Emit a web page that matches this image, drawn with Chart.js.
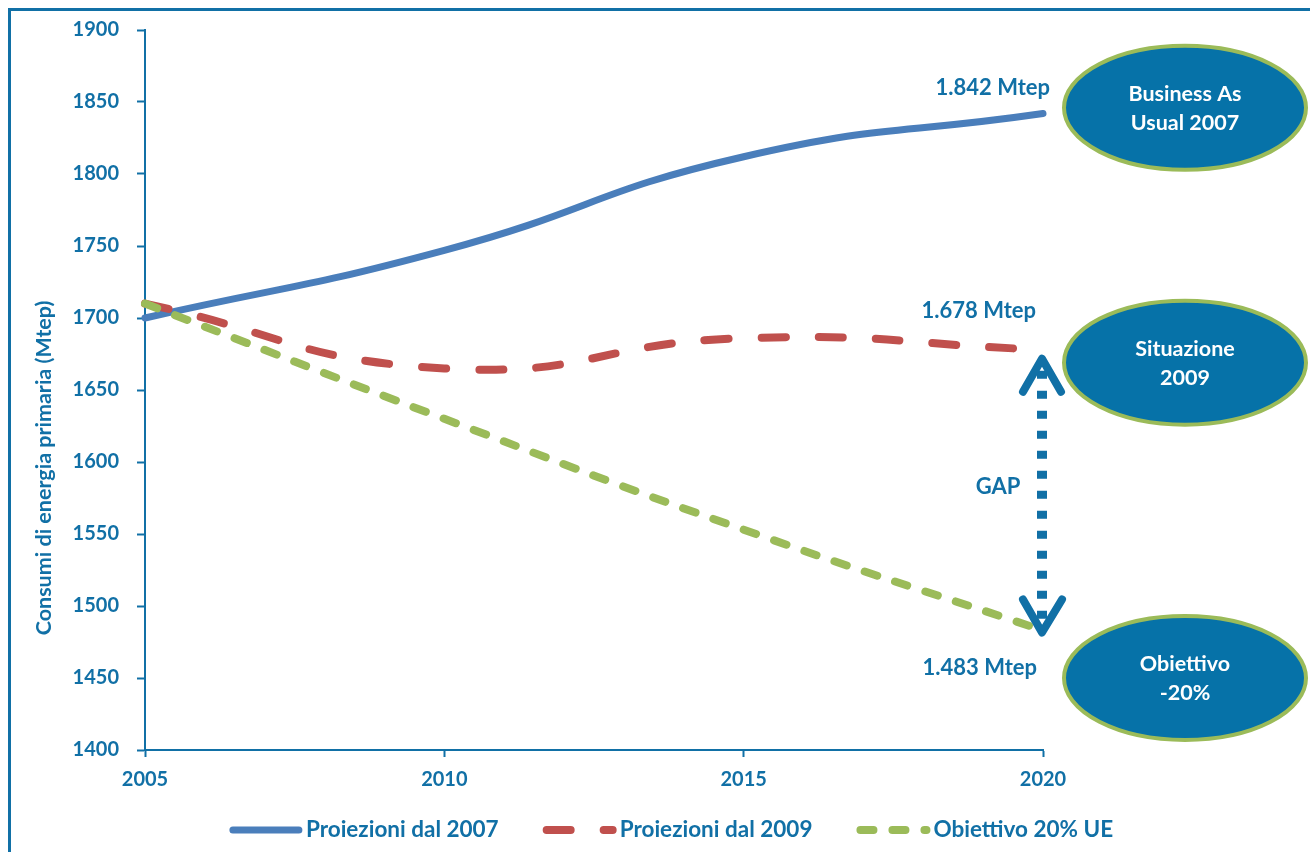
<!DOCTYPE html>
<html>
<head>
<meta charset="utf-8">
<script src="https://cdn.jsdelivr.net/npm/chart.js@4.4.1/dist/chart.umd.min.js"></script>
<style>
  html, body { margin: 0; padding: 0; background: #fff; }
  #wrap { position: relative; width: 1310px; height: 852px; overflow: hidden; }
  #frame { position: absolute; left: 8px; top: 8px; width: 1400px; height: 900px;
           border-top: 3px solid #1170a6; border-left: 3px solid #1170a6; pointer-events: none; }
</style>
</head>
<body>
<div id="wrap">
  <canvas id="consumiChart" width="1310" height="852"></canvas>
  <div id="frame"></div>
</div>
<script>
// Dati (Mtep)
const anni = [2005, 2010, 2015, 2020];
const proiezioni2007 = [1700, 1747, 1812, 1842];
const proiezioni2009 = [1710, 1665, 1686, 1678];
const obiettivoUE = [1710, 1630, 1553, 1483];
const tickAnni = [2005, 2010, 2015, 2020];
const tickValori = [1400, 1450, 1500, 1550, 1600, 1650, 1700, 1750, 1800, 1850, 1900];
const nomiSerie = ['Proiezioni dal 2007', 'Proiezioni dal 2009', 'Obiettivo 20% UE'];
const fumetti = [['Business As', 'Usual 2007'], ['Situazione', '2009'], ['Obiettivo', '-20%']];
const titoloAsseY = 'Consumi di energia primaria (Mtep)';

const BLU = '#1170a6';
const FONT = 'Lato, "Open Sans", sans-serif';

const punti = (vals) => vals.map((v, i) => ({ x: anni[i], y: v }));
const fmt = (v) => String(v).replace(/\B(?=(\d{3})+(?!\d))/g, '.') + ' Mtep';

// Etichette, freccia GAP, ellissi e titolo asse
const annotazioni = {
  id: 'annotazioni',
  afterDatasetsDraw(chart) {
    const { ctx, chartArea: a, scales: { x, y } } = chart;
    const last = anni.length - 1;
    const xEnd = x.getPixelForValue(anni[last]);
    ctx.save();

    // valori finali
    ctx.fillStyle = BLU;
    ctx.font = 'bold 22px ' + FONT;
    ctx.textAlign = 'right';
    ctx.textBaseline = 'middle';
    ctx.fillText(fmt(proiezioni2007[last]), xEnd + 7, y.getPixelForValue(proiezioni2007[last]) - 26);
    ctx.fillText(fmt(proiezioni2009[last]), xEnd - 7, y.getPixelForValue(proiezioni2009[last]) - 39);
    ctx.fillText(fmt(obiettivoUE[last]), xEnd - 6, y.getPixelForValue(obiettivoUE[last]) + 37);

    // freccia GAP
    const yTop = y.getPixelForValue(proiezioni2009[last]) + 5;
    const yBot = y.getPixelForValue(obiettivoUE[last]) + 6;
    const xa = xEnd - 1;
    ctx.strokeStyle = BLU;
    ctx.lineWidth = 10;
    ctx.lineCap = 'butt';
    ctx.setLineDash([8, 12]);
    ctx.beginPath();
    ctx.moveTo(xa, yTop + 16);
    ctx.lineTo(xa, yBot - 14);
    ctx.stroke();
    ctx.setLineDash([]);
    ctx.lineWidth = 8;
    ctx.lineCap = 'round';
    ctx.lineJoin = 'round';
    ctx.beginPath();
    ctx.moveTo(xa - 19, yTop + 37);
    ctx.lineTo(xa, yTop + 4);
    ctx.lineTo(xa + 19, yTop + 37);
    ctx.moveTo(xa - 19, yBot - 37);
    ctx.lineTo(xa, yBot - 4);
    ctx.lineTo(xa + 20, yBot - 37);
    ctx.stroke();
    ctx.textAlign = 'center';
    ctx.fillText('GAP', xa - 44, (yTop + yBot) / 2 - 9);

    // ellissi
    const centri = [1846, 1669, 1450];
    const cx = a.right + 142;
    fumetti.forEach((righe, i) => {
      const cy = y.getPixelForValue(centri[i]);
      ctx.beginPath();
      ctx.ellipse(cx, cy, 121, 62, 0, 0, Math.PI * 2);
      ctx.fillStyle = '#0672a8';
      ctx.fill();
      ctx.lineWidth = 4;
      ctx.strokeStyle = '#9bbb59';
      ctx.stroke();
      ctx.fillStyle = '#ffffff';
      ctx.font = 'bold 21.5px ' + FONT;
      ctx.fillText(righe[0], cx, cy - 14);
      ctx.fillText(righe[1], cx, cy + 15);
    });

    // titolo asse Y
    ctx.fillStyle = BLU;
    ctx.font = 'bold 21.5px ' + FONT;
    ctx.translate(44, (a.top + a.bottom) / 2 + 78);
    ctx.rotate(-Math.PI / 2);
    ctx.fillText(titoloAsseY, 0, 0);
    ctx.restore();
  },
  afterDraw(chart) {
    // legenda in basso
    const { ctx } = chart;
    const campione = 72, gapTesto = 5, gapVoci = 44, yL = 830;
    ctx.save();
    ctx.font = 'bold 22.5px ' + FONT;
    const larghezze = chart.data.datasets.map(d => campione + gapTesto + ctx.measureText(d.label).width);
    const tot = larghezze.reduce((s, w) => s + w, 0) + gapVoci * (larghezze.length - 1);
    let xL = chart.width / 2 + 16 - tot / 2;
    chart.data.datasets.forEach((d, i) => {
      ctx.strokeStyle = d.borderColor;
      ctx.lineWidth = d.borderWidth;
      ctx.lineCap = 'round';
      ctx.setLineDash(d.borderDash || []);
      ctx.beginPath();
      ctx.moveTo(xL + 4, yL);
      ctx.lineTo(xL + campione - 2, yL);
      ctx.stroke();
      ctx.setLineDash([]);
      ctx.fillStyle = BLU;
      ctx.textAlign = 'left';
      ctx.textBaseline = 'middle';
      ctx.fillText(d.label, xL + campione + gapTesto, yL);
      xL += larghezze[i] + gapVoci;
    });
    ctx.restore();
  }
};

new Chart(document.getElementById('consumiChart'), {
  type: 'line',
  data: {
    datasets: [
      { label: nomiSerie[0], data: punti(proiezioni2007), borderColor: '#4a7ebb',
        borderWidth: 7, order: 2 },
      { label: nomiSerie[1], data: punti(proiezioni2009), borderColor: '#c0504d',
        borderWidth: 8, borderDash: [24, 33], order: 1 },
      { label: nomiSerie[2], data: punti(obiettivoUE), borderColor: '#9bbb59',
        borderWidth: 8, borderDash: [13, 19], order: 0 }
    ]
  },
  options: {
    responsive: false,
    animation: false,
    devicePixelRatio: 1,
    layout: { padding: { top: 26, right: 267, bottom: 60, left: 0 } },
    elements: {
      line: { tension: 0.5, borderCapStyle: 'round', fill: false },
      point: { radius: 0, hoverRadius: 0 }
    },
    datasets: { line: { clip: false } },
    plugins: { legend: { display: false }, tooltip: { enabled: false } },
    scales: {
      x: {
        type: 'linear', min: 2005, max: 2020,
        afterBuildTicks: (s) => { s.ticks = tickAnni.map(v => ({ value: v })); },
        afterFit: (s) => { s.height = 42; },
        grid: { drawOnChartArea: false, tickLength: 7, tickColor: BLU, tickWidth: 2 },
        border: { color: BLU, width: 2 },
        ticks: { color: BLU, padding: 11, font: { family: FONT, size: 20, weight: 'bold' },
                 callback: (v) => String(v) }
      },
      y: {
        min: 1400, max: 1900,
        afterBuildTicks: (s) => { s.ticks = tickValori.map(v => ({ value: v })); },
        afterFit: (s) => { s.width = 145; },
        grid: { drawOnChartArea: false, tickLength: 8, tickColor: BLU, tickWidth: 2 },
        border: { color: BLU, width: 2 },
        ticks: { color: BLU, padding: 18, font: { family: FONT, size: 20, weight: 'bold' },
                 callback: (v) => String(v) }
      }
    }
  },
  plugins: [annotazioni]
});
</script>
</body>
</html>
